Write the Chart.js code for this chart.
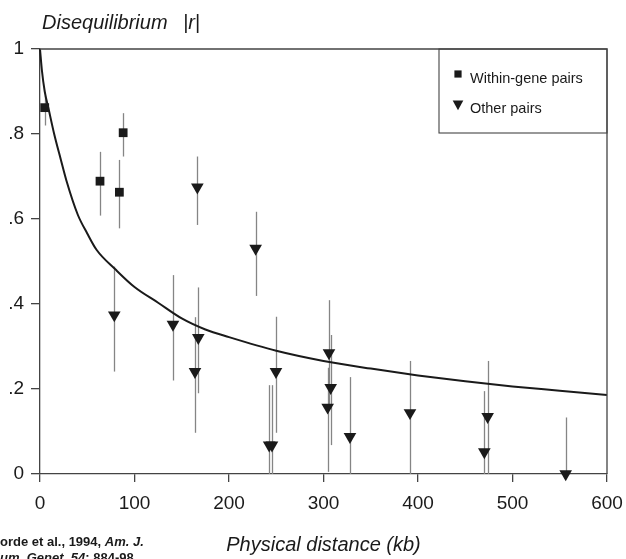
<!DOCTYPE html>
<html lang="en">
<head>
    <meta charset="UTF-8">
    <title>Disequilibrium vs physical distance</title>
    <script src="https://cdn.jsdelivr.net/npm/chart.js@4.4.1/dist/chart.umd.min.js"></script>
    <style>
        body { margin: 0; background: #ffffff; }
        .chart-box { position: relative; width: 626px; height: 559px; }
    </style>
</head>
<body>
    <div class="chart-box">
        <canvas id="ldChart"></canvas>
    </div>

    <script>
        // Within-gene pairs (squares) with their intervals
        const withinX  = [5, 63.5, 84, 88];
        const withinR  = [0.862, 0.689, 0.663, 0.803];
        const withinLo = [0.82, 0.608, 0.578, 0.747];
        const withinHi = [0.89, 0.758, 0.739, 0.849];

        // Other pairs (down triangles) with their intervals
        const otherX  = [78.6, 140.7, 164, 166.5, 167.5, 228.2, 242.5, 245.5, 249.7, 304.4, 305.8, 307.6, 328, 391.5, 470.2, 473.7, 556.3];
        const otherR  = [0.374, 0.352, 0.241, 0.675, 0.321, 0.531, 0.068, 0.068, 0.241, 0.157, 0.285, 0.203, 0.088, 0.144, 0.052, 0.135, 0.0];
        const otherLo = [0.241, 0.220, 0.097, 0.586, 0.190, 0.419, 0, 0, 0.097, 0.005, 0.16, 0.068, 0, 0, 0, 0, 0];
        const otherHi = [0.488, 0.468, 0.369, 0.747, 0.439, 0.617, 0.209, 0.209, 0.370, 0.25, 0.409, 0.327, 0.228, 0.266, 0.195, 0.266, 0.133];

        // Fitted decay curve
        const curveX = [0, 2, 5, 9, 15, 22, 28, 40, 50, 60, 80, 100, 125, 150, 175, 200, 250, 300, 350, 400, 450, 500, 550, 600];
        const curveR = [1, 0.95, 0.90, 0.86, 0.80, 0.74, 0.69, 0.61, 0.566, 0.527, 0.481, 0.440, 0.403, 0.366, 0.340, 0.322, 0.290, 0.266, 0.248, 0.232, 0.218, 0.206, 0.196, 0.186];

        const xTicks = [0, 100, 200, 300, 400, 500, 600];
        const yTicks = [0, 0.2, 0.4, 0.6, 0.8, 1];

        const FONT = "'Liberation Sans', Arial, sans-serif";
        const INK = '#1a1a1a';

        function pts(xs, ys) {
            return xs.map((x, i) => ({ x: x, y: ys[i] }));
        }

        function yLabel(v) {
            const n = Number(v.toFixed(1));
            if (n === 0) return '0';
            if (n === 1) return '1';
            return n.toFixed(1).replace('0.', '.');
        }

        function marker(ctx, style, x, y, r) {
            ctx.beginPath();
            if (style === 'rect') {
                ctx.rect(x - r, y - r, 2 * r, 2 * r);
            } else {
                ctx.moveTo(x - r * 0.95, y - r * 0.8);
                ctx.lineTo(x + r * 0.95, y - r * 0.8);
                ctx.lineTo(x, y + r * 0.95);
                ctx.closePath();
            }
            ctx.fill();
        }

        // error bars, frame, legend and loose text
        const decorations = {
            id: 'decorations',
            beforeDatasetsDraw(chart) {
                const ctx = chart.ctx, sx = chart.scales.x, sy = chart.scales.y;
                ctx.save();
                ctx.strokeStyle = '#858585';
                ctx.lineWidth = 1.3;
                const bars = (xs, lo, hi) => {
                    xs.forEach((x, i) => {
                        const px = Math.round(sx.getPixelForValue(x)) + 0.5;
                        ctx.beginPath();
                        ctx.moveTo(px, sy.getPixelForValue(hi[i]));
                        ctx.lineTo(px, sy.getPixelForValue(lo[i]));
                        ctx.stroke();
                    });
                };
                bars(withinX, withinLo, withinHi);
                bars(otherX, otherLo, otherHi);
                ctx.restore();
            },
            afterDraw(chart) {
                const ctx = chart.ctx, a = chart.chartArea;
                ctx.save();

                // top and right edges of the frame
                ctx.strokeStyle = '#444';
                ctx.lineWidth = 1.3;
                ctx.beginPath();
                ctx.moveTo(a.left, a.top);
                ctx.lineTo(a.right, a.top);
                ctx.lineTo(a.right, a.bottom);
                ctx.stroke();

                // legend box
                const lx = a.right - 168, ly = a.top, lh = 84;
                ctx.lineWidth = 1.1;
                ctx.strokeRect(lx, ly, a.right - lx, lh);
                ctx.fillStyle = INK;
                marker(ctx, 'rect', lx + 19, ly + 25, 3.6);
                marker(ctx, 'tri', lx + 19, ly + 56, 5.6);
                ctx.font = '14.5px ' + FONT;
                ctx.textBaseline = 'alphabetic';
                ctx.fillText(chart.data.datasets[1].label, lx + 31, ly + 34);
                ctx.fillText(chart.data.datasets[2].label, lx + 31, ly + 64);

                // y axis heading
                ctx.font = 'italic 20px ' + FONT;
                ctx.fillText('Disequilibrium', 42, 29);
                ctx.fillText('|r|', 183, 29);

                // citation, cut at the page edge
                ctx.font = 'bold 13px ' + FONT;
                let x = -ctx.measureText('J').width;
                const part = (txt, f, y) => {
                    ctx.font = f;
                    ctx.fillText(txt, x, y);
                    x += ctx.measureText(txt).width;
                };
                part('Jorde et al., 1994, ', 'bold 13px ' + FONT, 546);
                part('Am. J.', 'italic bold 13px ' + FONT, 546);
                ctx.font = 'italic bold 13px ' + FONT;
                x = -ctx.measureText('H').width;
                part('Hum. Genet. 54', 'italic bold 13px ' + FONT, 562);
                part(': 884-98', 'bold 13px ' + FONT, 562);

                ctx.restore();
            }
        };

        const ctx = document.getElementById('ldChart').getContext('2d');
        const ldChart = new Chart(ctx, {
            type: 'scatter',
            data: {
                datasets: [
                    {
                        label: 'Fitted curve',
                        data: pts(curveX, curveR),
                        showLine: true,
                        borderColor: INK,
                        borderWidth: 2,
                        pointRadius: 0,
                        cubicInterpolationMode: 'monotone',
                        clip: false
                    },
                    {
                        label: 'Within-gene pairs',
                        data: pts(withinX, withinR),
                        pointStyle: 'rect',
                        pointRadius: 6.2,
                        backgroundColor: INK,
                        borderColor: INK,
                        borderWidth: 0,
                        clip: false
                    },
                    {
                        label: 'Other pairs',
                        data: pts(otherX, otherR),
                        pointStyle: 'triangle',
                        rotation: 180,
                        pointRadius: 7.3,
                        backgroundColor: INK,
                        borderColor: INK,
                        borderWidth: 0,
                        clip: false
                    }
                ]
            },
            options: {
                responsive: true,
                maintainAspectRatio: false,
                animation: false,
                layout: { padding: { top: 49, right: 19, left: 0, bottom: 0 } },
                plugins: {
                    legend: { display: false },
                    tooltip: { enabled: false }
                },
                scales: {
                    x: {
                        type: 'linear',
                        min: 0,
                        max: 600,
                        afterBuildTicks: s => { s.ticks = xTicks.map(v => ({ value: v })); },
                        afterFit: s => { s.height = 85; s.paddingLeft = 0; s.paddingRight = 0; },
                        grid: { drawOnChartArea: false, tickLength: 8, color: '#444', lineWidth: 1.3 },
                        border: { color: '#444', width: 1.3 },
                        ticks: { color: INK, padding: 10, font: { family: FONT, size: 19 } },
                        title: {
                            display: true,
                            text: 'Physical distance (kb)',
                            color: INK,
                            font: { family: FONT, size: 20, style: 'italic' },
                            padding: { top: 0, bottom: 2 }
                        }
                    },
                    y: {
                        type: 'linear',
                        min: 0,
                        max: 1,
                        afterBuildTicks: s => { s.ticks = yTicks.map(v => ({ value: v })); },
                        afterFit: s => { s.width = 40; },
                        grid: { drawOnChartArea: false, tickLength: 9, color: '#444', lineWidth: 1.3 },
                        border: { color: '#444', width: 1.3 },
                        ticks: { color: INK, padding: 7, font: { family: FONT, size: 19 }, callback: yLabel }
                    }
                }
            },
            plugins: [decorations]
        });
    </script>
</body>
</html>
